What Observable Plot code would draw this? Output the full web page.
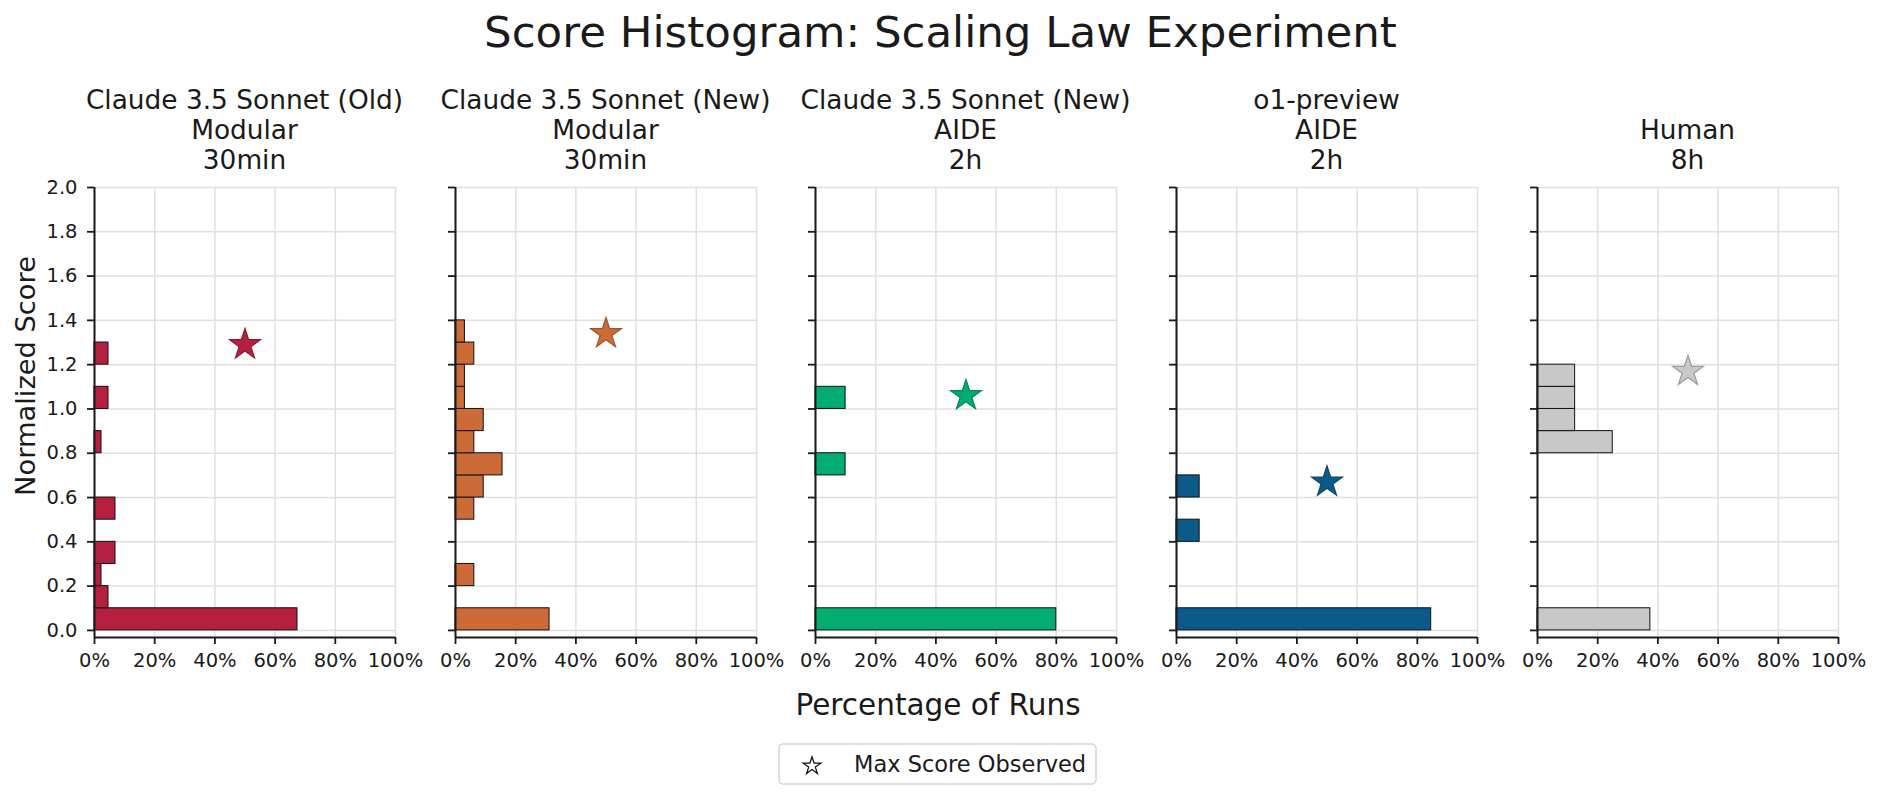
<!DOCTYPE html>
<html>
<head>
<meta charset="utf-8">
<script src="https://cdn.jsdelivr.net/npm/d3@7"></script>
<script src="https://cdn.jsdelivr.net/npm/@observablehq/plot@0.6"></script>
<style>
  body { margin: 0; background: #fff; font-family: "DejaVu Sans", sans-serif; }
  #root { position: relative; width: 1881px; height: 799px; overflow: hidden; background: #fff; }
  .panel { position: absolute; }
  #overlay { position: absolute; left: 0; top: 0; pointer-events: none; }
</style>
</head>
<body>
<div id="root"></div>
<script>
// ---------- data ----------
const chartTitle = "Score Histogram: Scaling Law Experiment";
const xLabel = "Percentage of Runs";
const yLabel = "Normalized Score";
const legendLabel = "Max Score Observed";

const panelTitles = [
  ["Claude 3.5 Sonnet (Old)", "Modular", "30min"],
  ["Claude 3.5 Sonnet (New)", "Modular", "30min"],
  ["Claude 3.5 Sonnet (New)", "AIDE", "2h"],
  ["o1-preview", "AIDE", "2h"],
  ["Human", "8h"]
];
const panelColors = ["#B5203F", "#CC6A38", "#03AC70", "#0B5A8A", "#C8C8C8"];

const binWidth = 0.1;
// lower edges of non-empty bins and run counts in each
const binsOldModular = [0.0, 0.1, 0.2, 0.3, 0.5, 0.8, 1.0, 1.2];
const countsOldModular = [29, 2, 1, 3, 3, 1, 2, 2];
const binsNewModular = [0.0, 0.2, 0.5, 0.6, 0.7, 0.8, 0.9, 1.0, 1.1, 1.2, 1.3];
const countsNewModular = [10, 2, 2, 3, 5, 2, 3, 1, 1, 2, 1];
const binsNewAide = [0.0, 0.7, 1.0];
const countsNewAide = [8, 1, 1];
const binsO1Aide = [0.0, 0.4, 0.6];
const countsO1Aide = [11, 1, 1];
const binsHuman = [0.0, 0.8, 0.9, 1.0, 1.1];
const countsHuman = [3, 2, 1, 1, 1];

const maxScores = [1.29, 1.34, 1.06, 0.67, 1.17];
const starX = 50;

const xDomain = [0, 100];
const yDomain = [-0.032, 2.0];
const xTicks = [0, 20, 40, 60, 80, 100];
const yTicks = [0.0, 0.2, 0.4, 0.6, 0.8, 1.0, 1.2, 1.4, 1.6, 1.8, 2.0];

// ---------- layout ----------
const FONT = "DejaVu Sans";
const frameLeft = [94, 455, 815, 1176, 1537];
const frameW = 301, frameTop = 187, frameH = 450;

const binSets = [binsOldModular, binsNewModular, binsNewAide, binsO1Aide, binsHuman];
const countSets = [countsOldModular, countsNewModular, countsNewAide, countsO1Aide, countsHuman];

const root = document.getElementById("root");

binSets.forEach((bins, i) => {
  const counts = countSets[i];
  const n = d3.sum(counts);
  const table = bins.map((lo, k) => ({lo, hi: lo + binWidth, pct: counts[k] / n * 100}));
  const color = panelColors[i];
  const starStroke = d3.color(color).darker(0.7).formatHex();
  const ml = i === 0 ? frameLeft[0] : 40, mr = 40, mt = 12, mb = 50;

  const fig = Plot.plot({
    width: ml + frameW + mr,
    height: mt + frameH + mb,
    marginLeft: ml, marginRight: mr, marginTop: mt, marginBottom: mb,
    style: {background: "transparent", overflow: "visible", fontFamily: FONT, color: "#1a1a1a"},
    x: {domain: xDomain, label: null},
    y: {domain: yDomain, label: null},
    marks: [
      Plot.gridX(xTicks, {stroke: "#e0e0e0", strokeOpacity: 1, strokeWidth: 1.5}),
      Plot.gridY(yTicks, {stroke: "#e0e0e0", strokeOpacity: 1, strokeWidth: 1.5}),
      Plot.rect(table, {x1: () => xDomain[0], x2: "pct", y1: "lo", y2: "hi",
        fill: color, stroke: "#111", strokeWidth: 1}),
      Plot.dot([maxScores[i]], {x: () => starX, y: d => d, symbol: "star", r: 9.7,
        fill: color, stroke: starStroke, strokeWidth: 1.2}),
      Plot.axisX(xTicks, {anchor: "bottom", tickSize: 7, tickPadding: 9, strokeWidth: 1.8,
        fontSize: 19.5, tickFormat: d => d + "%", label: null}),
      Plot.axisY(yTicks, {anchor: "left", tickSize: 7, tickPadding: 10, strokeWidth: 1.8,
        fontSize: 19.5, tickFormat: i === 0 ? d3.format(".1f") : () => "", label: null}),
      Plot.ruleX([xDomain[0]], {stroke: "#1a1a1a", strokeWidth: 2}),
      Plot.ruleY([yDomain[0]], {stroke: "#1a1a1a", strokeWidth: 2})
    ]
  });
  const wrap = document.createElement("div");
  wrap.className = "panel";
  wrap.style.left = (frameLeft[i] - ml) + "px";
  wrap.style.top = (frameTop - mt) + "px";
  wrap.appendChild(fig);
  root.appendChild(wrap);
});

// ---------- text overlay ----------
const svg = d3.select(root).append("svg").attr("id", "overlay")
  .attr("width", 1881).attr("height", 799)
  .style("font-family", FONT).style("fill", "#1a1a1a");

svg.append("text").attr("x", 940.5).attr("y", 47).attr("text-anchor", "middle")
  .style("font-size", "43.5px").text(chartTitle);

panelTitles.forEach((lines, i) => {
  const cx = frameLeft[i] + frameW / 2;
  const lineGap = 30, lastBaseline = 169;
  lines.forEach((t, k) => {
    svg.append("text").attr("x", cx)
      .attr("y", lastBaseline - (lines.length - 1 - k) * lineGap)
      .attr("text-anchor", "middle").style("font-size", "26.4px").text(t);
  });
});

svg.append("text").attr("text-anchor", "middle").style("font-size", "27.3px")
  .attr("transform", "translate(35,376) rotate(-90)").text(yLabel);

svg.append("text").attr("x", 938).attr("y", 715).attr("text-anchor", "middle")
  .style("font-size", "29.5px").text(xLabel);

// legend
svg.append("rect").attr("x", 779).attr("y", 744).attr("width", 317).attr("height", 40)
  .attr("rx", 4).attr("fill", "#fff").attr("stroke", "#d4d4d4").attr("stroke-width", 1.5);
svg.append("path").attr("d", d3.symbol(d3.symbolStar, 95)())
  .attr("transform", "translate(812,766)")
  .attr("fill", "#fff").attr("stroke", "#111").attr("stroke-width", 1.3);
svg.append("text").attr("x", 854).attr("y", 772).style("font-size", "22.5px").text(legendLabel);
</script>
</body>
</html>
